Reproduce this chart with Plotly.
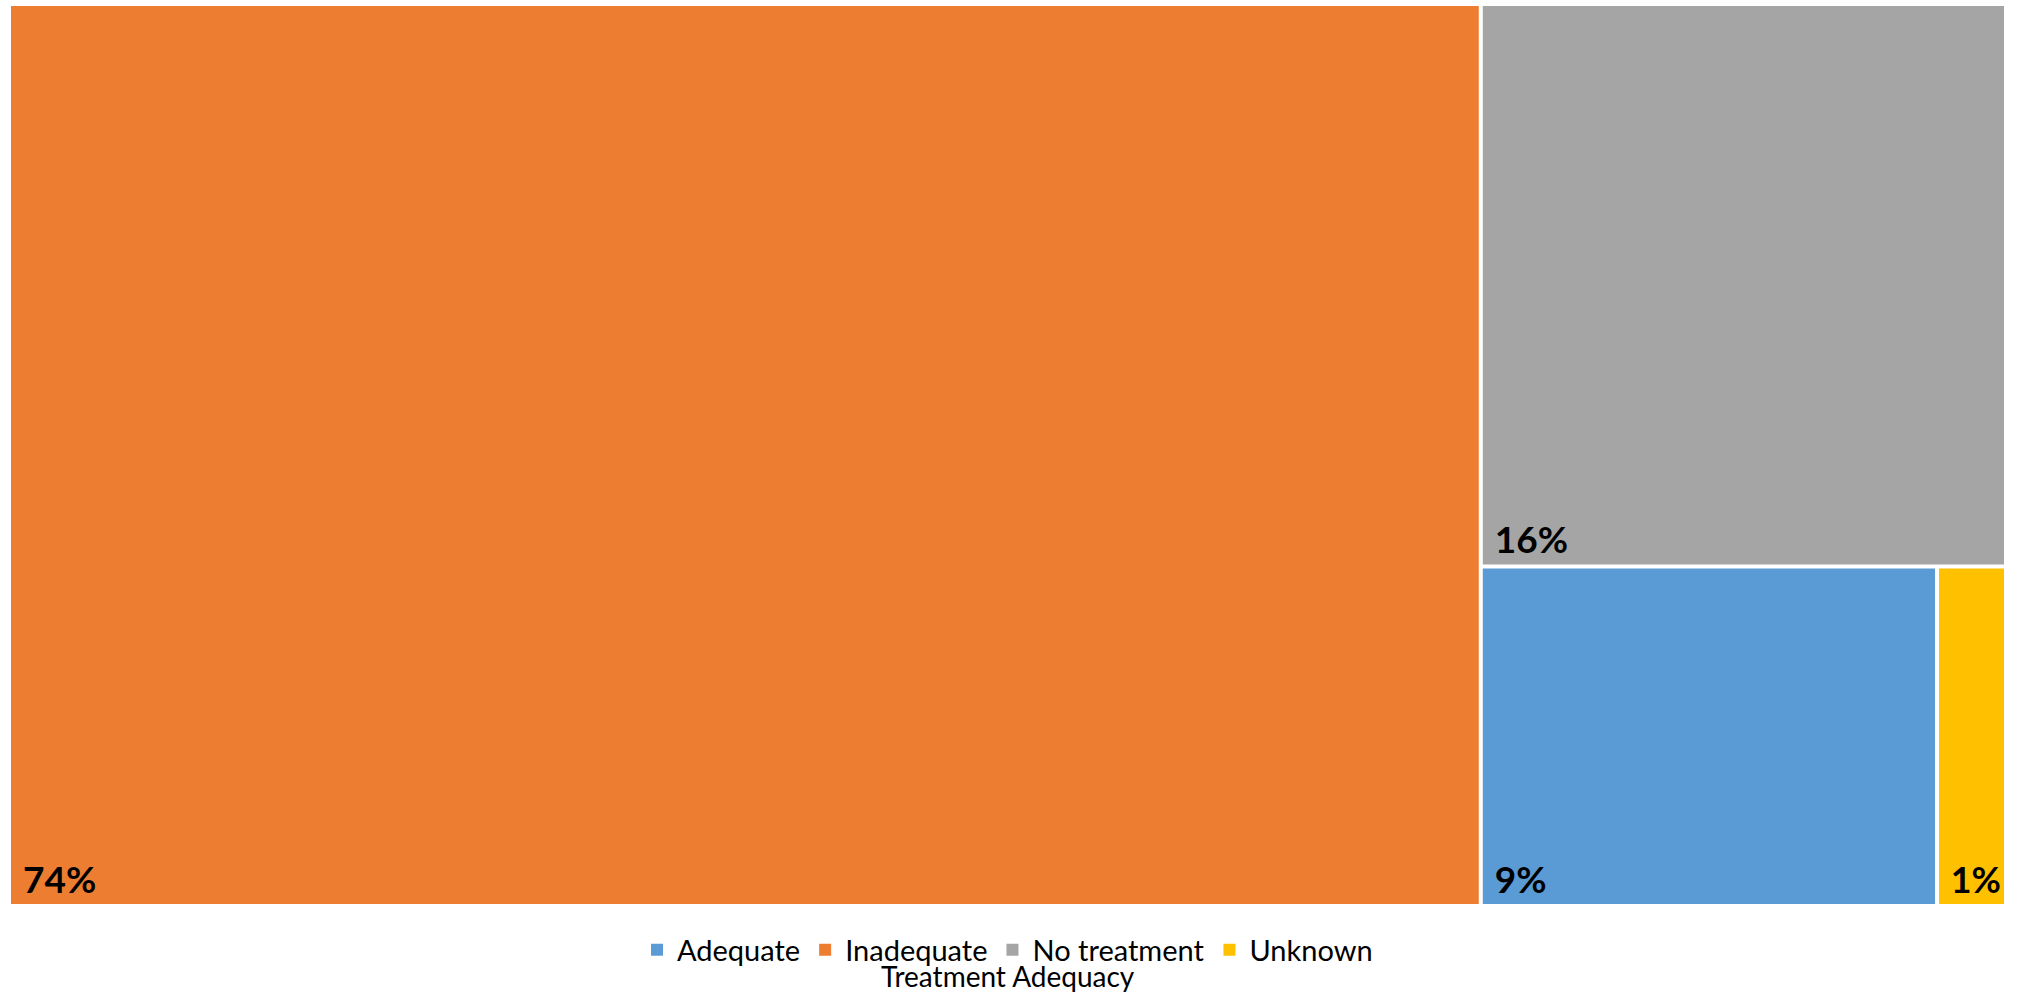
import plotly.graph_objects as go

categories = ["Adequate", "Inadequate", "No treatment", "Unknown"]
shares = [8.6, 73.7, 16.4, 1.3]
colors = ["#5B9BD5", "#ED7D31", "#A5A5A5", "#FFC000"]
legend_title = "Treatment Adequacy"

FONT = "Lato, Calibri, Arial, sans-serif"

fig = go.Figure()
fig.add_trace(go.Treemap(
    labels=categories,
    parents=[""] * len(categories),
    values=shares,
    marker=dict(colors=colors, line=dict(width=0), pad=dict(t=0, l=0, r=0, b=0)),
    texttemplate="\u00a0%{percentRoot:.0%}",
    textposition="bottom left",
    textfont=dict(family=FONT, size=37, color="black", weight="bold"),
    tiling=dict(packing="squarify", pad=4),
    pathbar=dict(visible=False),
    root=dict(color="white"),
    hoverinfo="label+percent root",
    sort=True,
))

for name, col in zip(categories, colors):
    fig.add_trace(go.Scatter(
        x=[None], y=[None], mode="markers", name=name,
        marker=dict(symbol="square", size=15, color=col),
        showlegend=True, hoverinfo="skip",
    ))

fig.update_layout(
    width=2017, height=995,
    margin=dict(l=11, r=13, t=6, b=91),
    paper_bgcolor="white", plot_bgcolor="white",
    xaxis=dict(visible=False), yaxis=dict(visible=False),
    showlegend=True,
    legend=dict(orientation="h", x=0.5, xanchor="center", y=-0.0512, yanchor="middle",
                font=dict(family=FONT, size=29, color="#000000"),
                itemsizing="constant", traceorder="normal"),
    annotations=[dict(text=legend_title, x=0.5, xref="paper", y=-0.0805, yref="paper",
                      xanchor="center", yanchor="middle", showarrow=False,
                      font=dict(family=FONT, size=28, color="#000000"))],
)

fig.write_html("out.html")
